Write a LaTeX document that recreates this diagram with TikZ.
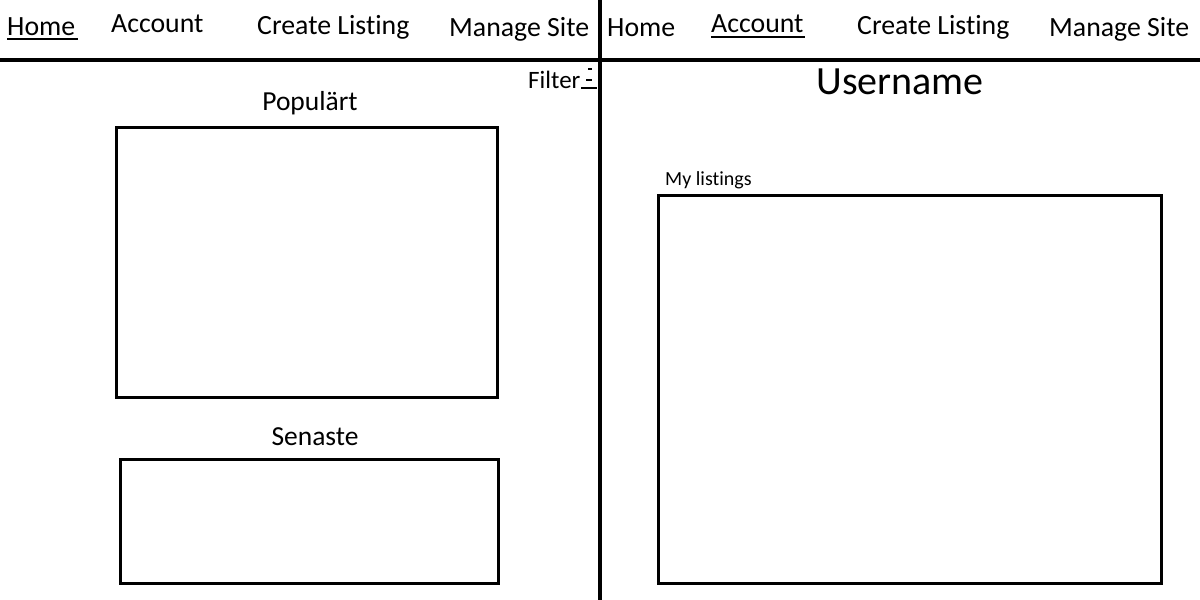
\documentclass[tikz,border=0pt]{standalone}
\usepackage{fontspec}
\setmainfont[Ligatures=NoCommon]{Carlito}
\usetikzlibrary{fit}
\begin{document}
\begin{tikzpicture}[x=1pt,y=-1pt,
  nav/.style={anchor=base west,inner sep=0pt,font=\fontsize{27.8}{30}\selectfont},
  lbl/.style={anchor=base,inner sep=0pt,font=\fontsize{27.5}{30}\selectfont},
  frame/.style={draw=black,line width=3pt,inner sep=0pt,outer sep=0pt},
  rule/.style={line width=4.5pt},
  uline/.style={line width=2pt}]
\useasboundingbox[fill=white] (0,0) rectangle (1200,600);
% dividers
\coordinate (hl) at (0,60);
\coordinate (hr) at (1200,60);
\coordinate (vt) at (600,0);
\coordinate (vb) at (600,600);
\draw[rule] (hl) -- (hr);
\draw[rule] (vt) -- (vb);
% left nav
\node[nav] (lhome) at (7,35) {Home};
\node[nav] (lacc) at (111,32) {Account};
\node[nav] (lcreate) at (257,34) {Create Listing};
\node[nav] (lmanage) at (449,36) {Manage Site};
\coordinate (lu1) at (7,38.5);
\coordinate (lu2) at (78,38.5);
\draw[uline] (lu1) -- (lu2);
% right nav
\node[nav] (rhome) at (607,36) {Home};
\node[nav] (racc) at (711,32) {Account};
\node[nav] (rcreate) at (857,34) {Create Listing};
\node[nav] (rmanage) at (1049,36) {Manage Site};
\coordinate (ru1) at (711,37);
\coordinate (ru2) at (805,37);
\draw[uline] (ru1) -- (ru2);
% left content
\node[nav,font=\fontsize{25}{28}\selectfont] (filter) at (528,88) {Filter};
\coordinate (f1a) at (588,68.5); \coordinate (f1b) at (592,68.5);
\coordinate (f2a) at (586,79.5); \coordinate (f2b) at (592,79.5);
\coordinate (f3a) at (581,88); \coordinate (f3b) at (597,88);
\draw[uline] (f1a) -- (f1b);
\draw[uline] (f2a) -- (f2b);
\draw[uline] (f3a) -- (f3b);
\node[lbl] (pop) at (310,110) {Populärt};
\coordinate (p1) at (116,127); \coordinate (p2) at (497,397);
\node[frame,fit=(p1)(p2)] (popbox) {};
\node[lbl] (sen) at (315,445) {Senaste};
\coordinate (s1) at (120,459); \coordinate (s2) at (498,583);
\node[frame,fit=(s1)(s2)] (senbox) {};
% right content
\node[lbl,font=\fontsize{40}{44}\selectfont] (user) at (900,94) {Username};
\node[anchor=base west,inner sep=0pt,font=\fontsize{20}{24}\selectfont] (myl) at (665,185) {My listings};
\coordinate (m1) at (658,195); \coordinate (m2) at (1161,583);
\node[frame,fit=(m1)(m2)] (mybox) {};
\end{tikzpicture}
\end{document}
